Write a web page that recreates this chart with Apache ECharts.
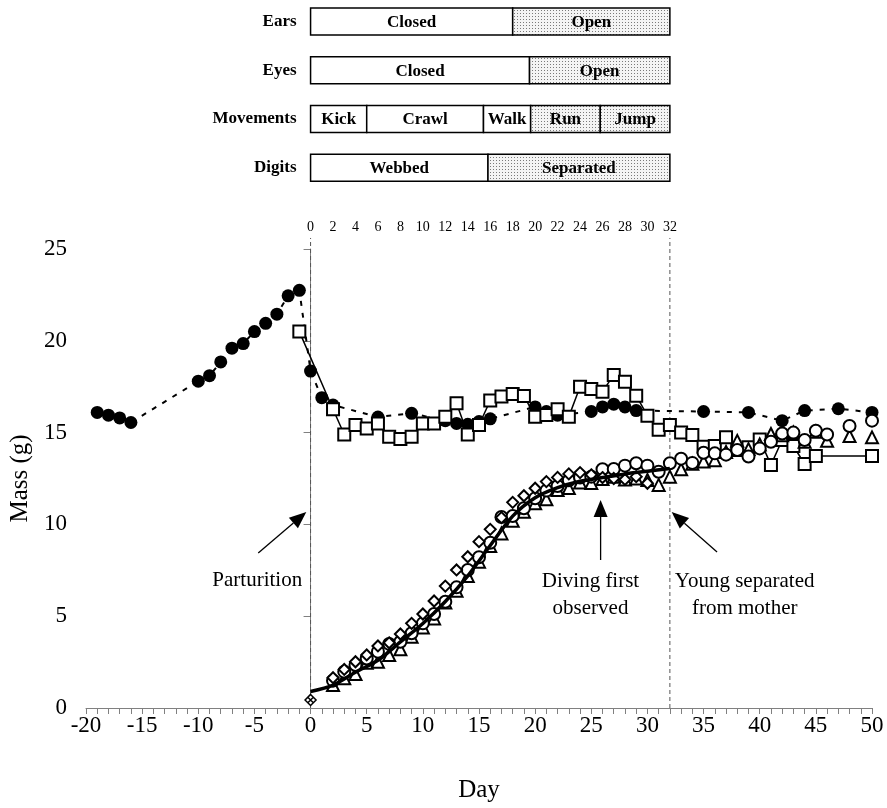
<!DOCTYPE html>
<html>
<head>
<meta charset="utf-8">
<script src="https://cdn.jsdelivr.net/npm/echarts@6/dist/echarts.min.js"></script>
<style>
  html, body { margin: 0; padding: 0; background: #fff; }
  #chart { width: 887px; height: 808px; }
</style>
</head>
<body>
<div id="chart"></div>
<script>
// font used everywhere
var serif = '"Liberation Serif", "Times New Roman", serif';

// development stages (top bars), day ranges on the 0-32 scale
var stageRows = ['Ears', 'Eyes', 'Movements', 'Digits'];
var stageLabels = ['Closed', 'Open', 'Closed', 'Open', 'Kick', 'Crawl', 'Walk', 'Run', 'Jump', 'Webbed', 'Separated'];
var stageRowIdx = [0, 0, 1, 1, 2, 2, 2, 2, 2, 3, 3];
var stageStart = [0, 18, 0, 19.5, 0, 5, 15.4, 19.6, 25.8, 0, 15.8];
var stageEnd = [18, 32, 19.5, 32, 5, 15.4, 19.6, 25.8, 32, 15.8, 32];
var stageDotted = [0, 1, 0, 1, 0, 0, 0, 1, 1, 0, 1];

// mother mass (filled circles, dashed line)
var motherDays = [-19, -18, -17, -16, -10, -9, -8, -7, -6, -5, -4, -3, -2, -1, 0, 1, 2, 6, 9, 12, 13, 14, 15, 16, 20, 21, 22, 25, 26, 27, 28, 29, 35, 39, 42, 44, 47, 50];
var motherMass = [16.1, 15.95, 15.8, 15.55, 17.8, 18.1, 18.85, 19.6, 19.85, 20.5, 20.95, 21.45, 22.45, 22.75, 18.35, 16.9, 16.5, 15.85, 16.05, 15.65, 15.5, 15.45, 15.6, 15.75, 16.4, 16.15, 15.95, 16.15, 16.4, 16.55, 16.4, 16.2, 16.15, 16.1, 15.65, 16.2, 16.3, 16.1];

// open squares, solid line
var squareDays = [-1, 2, 3, 4, 5, 6, 7, 8, 9, 10, 11, 12, 13, 14, 15, 16, 17, 18, 19, 20, 21, 22, 23, 24, 25, 26, 27, 28, 29, 30, 31, 32, 33, 34, 35, 36, 37, 38, 39, 40, 41, 42, 43, 44, 45, 50];
var squareMass = [20.5, 16.27, 14.9, 15.41, 15.23, 15.5, 14.78, 14.65, 14.78, 15.5, 15.5, 15.87, 16.6, 14.9, 15.41, 16.75, 16.96, 17.1, 17.0, 15.87, 15.96, 16.27, 15.87, 17.5, 17.37, 17.23, 18.14, 17.77, 17.01, 15.92, 15.15, 15.41, 15.0, 14.87, 14.23, 14.27, 14.74, 14.05, 14.2, 14.63, 13.24, 14.6, 14.27, 13.29, 13.73, 13.73];

// pups
var pupDays = [2, 3, 4, 5, 6, 7, 8, 9, 10, 11, 12, 13, 14, 15, 16, 17, 18, 19, 20, 21, 22, 23, 24, 25, 26, 27, 28, 29, 30, 31, 32, 33, 34, 35, 36, 37, 38, 39, 40, 41, 42, 43, 44, 45, 46, 48, 50];
var circleMass = [1.49, 1.98, 2.34, 2.7, 3.07, 3.49, 3.61, 4.07, 4.61, 5.12, 5.79, 6.57, 7.52, 8.21, 9.0, 10.4, 10.46, 10.88, 11.42, 11.84, 12.09, 12.4, 12.55, 12.6, 13.0, 13.02, 13.2, 13.33, 13.2, 12.87, 13.33, 13.58, 13.35, 13.9, 13.87, 13.8, 14.05, 13.7, 14.14, 14.5, 14.95, 15.0, 14.6, 15.1, 14.9, 15.36, 15.65];
var triangleMass = [1.25, 1.62, 1.85, 2.47, 2.52, 2.89, 3.2, 3.88, 4.39, 4.88, 5.74, 6.39, 7.19, 7.97, 8.82, 9.51, 10.2, 10.69, 11.15, 11.37, 11.87, 11.98, 12.28, 12.25, 12.47, 12.6, 12.45, 12.5, 12.42, 12.15, 12.6, 13.0, 13.3, 13.42, 13.5, 13.95, 14.55, 14.1, 14.35, 14.92, 14.85, 15.0, 14.5, 15.05, 14.55, 14.81, 14.74];
var diamondDays = [2, 3, 4, 5, 6, 7, 8, 9, 10, 11, 12, 13, 14, 15, 16, 17, 18, 19, 20, 21, 22, 23, 24, 25, 26, 27, 28, 29, 30];
var diamondMass = [1.65, 2.1, 2.52, 2.89, 3.38, 3.55, 4.03, 4.61, 5.12, 5.83, 6.64, 7.52, 8.24, 9.06, 9.73, 10.37, 11.2, 11.56, 11.97, 12.33, 12.56, 12.75, 12.82, 12.7, 12.55, 12.5, 12.45, 12.6, 12.24];
var newbornDays = [0];
var newbornMass = [0.44];

// fitted growth curve (thick line)
var fitDays = [0, 2, 4, 6, 8, 10, 12, 14, 16, 18, 20, 22, 24, 26, 28, 30, 32];
var fitMass = [0.9, 1.25, 1.95, 2.6, 3.6, 4.6, 5.8, 7.2, 8.85, 10.45, 11.45, 12.0, 12.35, 12.55, 12.75, 12.9, 13.05];

// annotations (data coordinates)
var noteTexts = ['Parturition', 'Diving first\nobserved', 'Young separated\nfrom mother'];
var notePos = [[-4.75, 6.92], [24.93, 6.18], [38.66, 6.18]];
var arrowFrom = [[-4.66, 8.44], [25.83, 8.06], [36.2, 8.5]];
var arrowTo = [[-0.38, 10.68], [25.83, 11.33], [32.16, 10.68]];
var guideDays = [0, 32];
var guideTop = 25.6;

function zip(a, b) {
  return a.map(function (v, i) { return [v, b[i]]; });
}

// stippled fill for the "open"/"separated" stages
var dotCanvas = document.createElement('canvas');
dotCanvas.width = 3;
dotCanvas.height = 3;
var dctx = dotCanvas.getContext('2d');
dctx.fillStyle = '#f4f4f4';
dctx.fillRect(0, 0, 3, 3);
dctx.fillStyle = '#7a7a7a';
dctx.fillRect(1, 1, 1, 1);

var chart = echarts.init(document.getElementById('chart'));

var gLeft = 86, gRight = 15, gWidth = 887 - gLeft - gRight;
var perDay = gWidth / 70;

var stageData = stageLabels.map(function (lab, i) {
  return [stageRowIdx[i], stageStart[i], stageEnd[i], lab, stageDotted[i]];
});

var openMarker = { color: '#fff', borderColor: '#000', borderWidth: 2, opacity: 1 };

chart.setOption({
  animation: false,
  backgroundColor: '#fff',
  textStyle: { fontFamily: serif, color: '#000' },
  grid: [
    { left: gLeft, right: gRight, top: 249, bottom: 100, outerBoundsMode: 'none' },
    { left: gLeft + perDay * 20, right: gRight + perDay * 18, top: -3, height: 195, outerBoundsMode: 'none' }
  ],
  xAxis: [
    {
      gridIndex: 0, type: 'value', min: -20, max: 50, interval: 5,
      name: 'Day', nameLocation: 'middle', nameGap: 70,
      nameTextStyle: { fontFamily: serif, fontSize: 25, color: '#000' },
      axisLine: { show: true, lineStyle: { color: '#808080', width: 1 } },
      axisTick: { show: true, length: 6, lineStyle: { color: '#808080' } },
      minorTick: { show: true, splitNumber: 5, length: 6, lineStyle: { color: '#808080' } },
      axisLabel: { fontFamily: serif, fontSize: 23, color: '#000', margin: 6 },
      splitLine: { show: false }
    },
    {
      gridIndex: 0, type: 'value', position: 'top', min: -20, max: 50, interval: 2,
      axisLine: { show: false }, axisTick: { show: false }, splitLine: { show: false },
      axisLabel: {
        interval: 0, fontFamily: serif, fontSize: 14, color: '#000', margin: 15,
        formatter: function (v) { return (v >= 0 && v <= 32) ? String(v) : ''; }
      }
    },
    { gridIndex: 1, type: 'value', min: 0, max: 32, show: false }
  ],
  yAxis: [
    {
      gridIndex: 0, type: 'value', min: 0, max: 25, interval: 5,
      name: 'Mass (g)', nameLocation: 'middle', nameGap: 52, nameRotate: 90,
      nameTextStyle: { fontFamily: serif, fontSize: 25, color: '#000' },
      axisLine: { show: true, lineStyle: { color: '#808080', width: 1 } },
      axisTick: { show: true, length: 7, lineStyle: { color: '#808080' } },
      axisLabel: { fontFamily: serif, fontSize: 23, color: '#000', margin: 19 },
      splitLine: { show: false }
    },
    {
      gridIndex: 1, type: 'category', data: stageRows, inverse: true,
      axisLine: { show: false }, axisTick: { show: false }, splitLine: { show: false },
      axisLabel: { fontFamily: serif, fontSize: 17, fontWeight: 'bold', color: '#000', margin: 14 }
    }
  ],
  series: [
    {
      name: 'mother', type: 'line', xAxisIndex: 0, yAxisIndex: 0,
      data: zip(motherDays, motherMass),
      symbol: 'circle', symbolSize: 13, showSymbol: true,
      itemStyle: { color: '#000', opacity: 1 },
      lineStyle: { color: '#000', width: 2, type: [5, 7] },
      z: 2, silent: true
    },
    {
      name: 'squares', type: 'line', xAxisIndex: 0, yAxisIndex: 0,
      data: zip(squareDays, squareMass),
      symbol: 'rect', symbolSize: 12, showSymbol: true,
      itemStyle: openMarker,
      lineStyle: { color: '#000', width: 1.5 },
      z: 3, silent: true
    },
    {
      name: 'triangles', type: 'scatter', xAxisIndex: 0, yAxisIndex: 0,
      data: zip(pupDays, triangleMass),
      symbol: 'triangle', symbolSize: 12,
      itemStyle: openMarker,
      z: 4, silent: true
    },
    {
      name: 'circles', type: 'scatter', xAxisIndex: 0, yAxisIndex: 0,
      data: zip(pupDays, circleMass),
      symbol: 'circle', symbolSize: 12,
      itemStyle: openMarker,
      z: 4, silent: true
    },
    {
      name: 'diamonds', type: 'scatter', xAxisIndex: 0, yAxisIndex: 0,
      data: zip(diamondDays, diamondMass),
      symbol: 'diamond', symbolSize: 11,
      itemStyle: openMarker,
      z: 4, silent: true
    },
    {
      name: 'newborn', type: 'scatter', xAxisIndex: 0, yAxisIndex: 0,
      data: zip(newbornDays, newbornMass),
      symbol: 'path://M5,0L10,5L5,10L0,5Z M2.5,2.5L7.5,7.5 M7.5,2.5L2.5,7.5', symbolSize: 11,
      itemStyle: { color: '#fff', borderColor: '#000', borderWidth: 1.5, opacity: 1 },
      z: 4, silent: true
    },
    {
      name: 'fit', type: 'line', xAxisIndex: 0, yAxisIndex: 0,
      data: zip(fitDays, fitMass),
      smooth: 0.3, showSymbol: false,
      lineStyle: { color: '#000', width: 3.5 },
      z: 5, silent: true
    },
    {
      name: 'stages', type: 'custom', xAxisIndex: 2, yAxisIndex: 1,
      data: stageData, encode: { x: [1, 2], y: 0 }, silent: true,
      renderItem: function (params, api) {
        var row = api.value(0);
        var p0 = api.coord([api.value(1), row]);
        var p1 = api.coord([api.value(2), row]);
        var h = 27;
        var dotted = api.value(4) === 1;
        var lab = stageData[params.dataIndex][3];
        return {
          type: 'group',
          children: [
            {
              type: 'rect',
              shape: { x: p0[0], y: p0[1] - h / 2, width: p1[0] - p0[0], height: h },
              style: { fill: dotted ? { image: dotCanvas, repeat: 'repeat' } : '#fff', stroke: '#000', lineWidth: 1.5 }
            },
            {
              type: 'text',
              style: {
                text: lab, x: (p0[0] + p1[0]) / 2, y: p0[1] + 1,
                align: 'center', verticalAlign: 'middle',
                font: 'bold 17px ' + serif, fill: '#000'
              }
            }
          ]
        };
      }
    }
  ]
});

// dashed guides, arrows and notes placed through the axes
function px(v) { return chart.convertToPixel({ xAxisIndex: 0, yAxisIndex: 0 }, v); }
var gfx = [];
guideDays.forEach(function (d) {
  var a = px([d, 0]), b = px([d, guideTop]);
  gfx.push({
    type: 'line', silent: true, z: 1,
    shape: { x1: a[0], y1: a[1], x2: b[0], y2: b[1] },
    style: { stroke: '#555', lineWidth: 1, lineDash: [4, 3] }
  });
});
arrowFrom.forEach(function (f, i) {
  var a = px(f), b = px(arrowTo[i]);
  var dx = b[0] - a[0], dy = b[1] - a[1];
  var len = Math.sqrt(dx * dx + dy * dy);
  var ux = dx / len, uy = dy / len;
  var hl = 17, hw = 7;
  var bx = b[0] - ux * hl, by = b[1] - uy * hl;
  gfx.push({
    type: 'line', silent: true, z: 10,
    shape: { x1: a[0], y1: a[1], x2: bx, y2: by },
    style: { stroke: '#000', lineWidth: 1.3 }
  });
  gfx.push({
    type: 'polygon', silent: true, z: 10,
    shape: { points: [[b[0], b[1]], [bx - uy * hw, by + ux * hw], [bx + uy * hw, by - ux * hw]] },
    style: { fill: '#000' }
  });
});
noteTexts.forEach(function (t, i) {
  var p = px(notePos[i]);
  gfx.push({
    type: 'text', silent: true, z: 10, x: p[0], y: p[1],
    style: {
      text: t, font: '21px ' + serif, fill: '#000', lineHeight: 27,
      align: 'center', verticalAlign: 'middle', textAlign: 'center', textVerticalAlign: 'middle'
    }
  });
});
chart.setOption({ graphic: gfx });
</script>
</body>
</html>
